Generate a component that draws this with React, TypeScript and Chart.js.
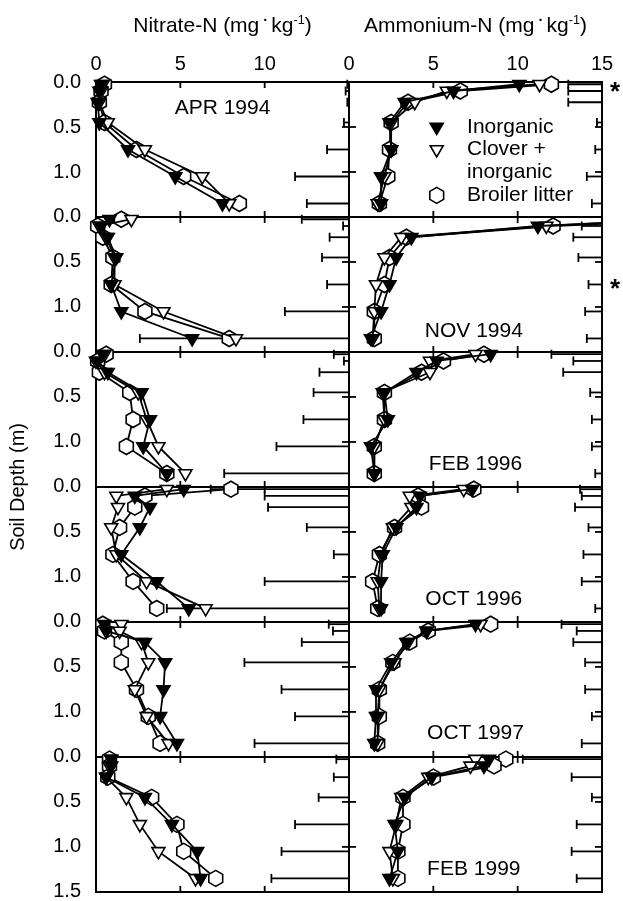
import React, { useEffect, useRef } from "react";
import { Chart, registerables } from "chart.js";

Chart.register(...registerables);

// ---------------- data ----------------
const DEPTHS = [0.025, 0.1, 0.225, 0.45, 0.75, 1.05, 1.35];
const PANEL_DATES = ["APR 1994", "NOV 1994", "FEB 1996", "OCT 1996", "OCT 1997", "FEB 1999"];
const DATE_LABEL_COLUMN = [0, 1, 1, 1, 1, 1];
const DATE_LABEL_X = [7.5, 7.4, 7.5, 7.4, 7.5, 7.4];
const DATE_LABEL_DEPTH = [0.29, 1.27, 1.25, 1.25, 1.24, 1.25];

const NITRATE_INORGANIC = [
  [0.3, 0.2, 0.1, 0.2, 1.9, 4.7, 7.5],
  [0.8, 0.3, 0.7, 1.2, 0.9, 1.5, 5.7],
  [0.4, 0.1, 0.7, 2.7, 3.2, 2.8, 4.2],
  [5.2, 2.3, 3.2, 2.6, 1.5, 3.6, 5.5],
  [0.5, 0.6, 2.9, 4.1, 4.0, 3.8, 4.8],
  [0.9, 0.9, 0.6, 2.9, 4.5, 6.0, 6.2],
];
const NITRATE_CLOVER = [
  [0.4, 0.3, 0.2, 0.7, 2.9, 6.3, 7.9],
  [2.1, 0.2, 0.6, 1.1, 1.1, 4.0, 8.3],
  [0.5, 0.0, 0.5, 2.5, 3.0, 3.7, 5.3],
  [4.2, 1.2, 1.3, 0.9, 1.2, 3.0, 6.5],
  [1.5, 1.4, 2.7, 3.1, 2.3, 3.0, 4.3],
  [0.9, 0.8, 0.6, 1.8, 2.6, 3.7, 5.9],
];
const NITRATE_BROILER = [
  [0.5, 0.3, 0.2, 0.5, 2.4, 5.2, 8.5],
  [1.5, 0.1, 0.4, 1.0, 0.9, 2.9, 7.9],
  [0.6, 0.1, 0.2, 2.0, 2.2, 1.8, 4.2],
  [8.0, 2.9, 2.3, 1.4, 1.0, 2.2, 3.6],
  [0.4, 0.5, 1.5, 1.5, 2.4, 3.1, 3.8],
  [0.8, 0.8, 0.7, 3.3, 4.8, 5.2, 7.1],
];

const AMMONIUM_INORGANIC = [
  [10.1, 6.2, 3.3, 2.4, 2.5, 1.9, 1.9],
  [20.0, 11.2, 3.7, 2.8, 2.4, 1.9, 1.3],
  [8.4, 5.2, 4.0, 2.1, 2.3, 1.3, 1.5],
  [7.3, 4.2, 4.0, 2.8, 2.0, 1.9, 1.9],
  [7.5, 4.6, 3.4, 2.5, 1.6, 1.6, 1.5],
  [8.3, 8.0, 4.9, 3.3, 2.7, 2.9, 2.4],
];
const AMMONIUM_CLOVER = [
  [11.3, 5.8, 3.9, 2.5, 2.5, 2.1, 1.7],
  [19.0, 11.7, 3.1, 2.1, 1.6, 1.5, 1.4],
  [7.5, 4.8, 4.8, 2.0, 2.1, 1.5, 1.5],
  [6.8, 3.6, 3.7, 2.6, 1.9, 1.7, 1.8],
  [7.8, 4.6, 3.5, 2.7, 1.8, 1.7, 1.7],
  [7.5, 7.2, 4.7, 3.1, 2.8, 2.4, 2.6],
];
const AMMONIUM_BROILER = [
  [12.0, 6.6, 3.5, 2.5, 2.4, 2.3, 1.8],
  [21.0, 12.1, 3.4, 2.4, 2.1, 1.5, 1.5],
  [8.0, 5.6, 4.3, 2.1, 2.1, 1.5, 1.5],
  [7.4, 4.1, 4.3, 2.7, 1.8, 1.4, 1.7],
  [8.4, 4.7, 3.6, 2.6, 1.8, 1.8, 1.7],
  [9.3, 8.6, 5.0, 3.2, 3.2, 2.9, 2.9],
];

// LSD bars (length, drawn leftwards from the right edge of each panel)
const NITRATE_LSD = [
  [0.1, 0.2, 0.1, 0.3, 1.3, 3.2, 2.5],
  [2.8, 0.35, 1.15, 1.6, 1.3, 3.8, 12.4],
  [0.9, 0.3, 1.75, 2.1, 2.7, 4.3, 7.4],
  [8.2, 5.0, 4.8, 2.5, 0.9, 5.0, 10.8],
  [1.2, 0.95, 2.8, 6.2, 4.0, 3.2, 5.6],
  [0.75, null, 0.9, 1.8, 3.2, 4.0, 4.6],
];
const AMMONIUM_LSD = [
  [2.0, 2.0, 2.0, 0.3, 0.4, 0.9, 0.6],
  [null, 1.2, 1.7, 1.4, 0.8, 1.0, 0.9],
  [3.0, 1.7, 2.3, 0.7, 0.6, 0.6, 0.4],
  [1.3, 1.2, 1.6, 0.8, 1.1, 1.2, 0.4],
  [2.4, 1.5, 1.7, 1.0, 1.0, 0.6, 1.2],
  [4.7, null, 1.8, 0.6, 1.5, 1.8, 1.5],
];

const ASTERISK_PANEL = [0, 1];
const ASTERISK_DEPTH = [0.06, 0.75];

const X_TICKS = [5, 10];
const Y_TICKS = [0.5, 1.0];
const LEGEND_NAMES = ["Inorganic", "Clover +", "inorganic", "Broiler litter"];
const LEGEND_SYMBOL = [0, 1, -1, 2];
const LEGEND_DEPTH = [0.5, 0.75, 1.0, 1.26];

// ---------------- layout constants ----------------
const SPAN = 1.5; // metres per panel
const XMAX = 15; // per column
const NP = PANEL_DATES.length;
const FONT = "'Liberation Sans', Arial, Helvetica, sans-serif";
const W = 623;
const H = 901;
const MARK_R = 7.5;
const HEX_R = 8;
const LINE_W = 1.8;

function hexPath(ctx: CanvasRenderingContext2D, x: number, y: number, r: number) {
  ctx.beginPath();
  for (let k = 0; k < 6; k++) {
    const a = Math.PI / 2 + (k * Math.PI) / 3;
    const px = x + r * Math.cos(a);
    const py = y - r * Math.sin(a);
    if (k === 0) ctx.moveTo(px, py);
    else ctx.lineTo(px, py);
  }
  ctx.closePath();
}

function drawSymbol(ctx: CanvasRenderingContext2D, kind: number, x: number, y: number) {
  ctx.save();
  ctx.lineWidth = 1.6;
  ctx.strokeStyle = "#000";
  if (kind === 2) {
    hexPath(ctx, x, y, HEX_R);
    ctx.fillStyle = "#fff";
  } else {
    const r = MARK_R;
    ctx.beginPath();
    ctx.moveTo(x, y + r);
    ctx.lineTo(x - r * 0.866, y - r / 2);
    ctx.lineTo(x + r * 0.866, y - r / 2);
    ctx.closePath();
    ctx.fillStyle = kind === 0 ? "#000" : "#fff";
  }
  ctx.fill();
  ctx.stroke();
  ctx.restore();
}

const figurePlugin = {
  id: "figureFrame",
  beforeDatasetsDraw(chart: any) {
    const { ctx, chartArea: a, scales } = chart;
    const xs = scales.x;
    const ys = scales.y;
    ctx.save();
    ctx.strokeStyle = "#000";
    ctx.lineWidth = 2;
    const seg = (x1: number, y1: number, x2: number, y2: number) => {
      ctx.beginPath();
      ctx.moveTo(x1, y1);
      ctx.lineTo(x2, y2);
      ctx.stroke();
    };
    // panel boundaries
    for (let p = 0; p <= NP; p++) {
      const py = ys.getPixelForValue(p * SPAN);
      seg(a.left - 1, py, a.right + 1, py);
    }
    for (let c = 0; c <= 2; c++) {
      const px = xs.getPixelForValue(c * XMAX);
      seg(px, a.top, px, a.bottom);
    }
    // x ticks on horizontal boundaries
    ctx.lineWidth = 1.8;
    for (let p = 0; p <= NP; p++) {
      const py = ys.getPixelForValue(p * SPAN);
      const up = p === 0 ? 0 : 6;
      const down = p === NP ? 0 : 6;
      for (let c = 0; c < 2; c++) {
        for (const t of X_TICKS) {
          const px = xs.getPixelForValue(c * XMAX + t);
          seg(px, py - up, px, py + down);
        }
      }
    }
    // y ticks on the column divider and right edge
    for (let p = 0; p < NP; p++) {
      for (const t of Y_TICKS) {
        const py = ys.getPixelForValue(p * SPAN + t);
        const mid = xs.getPixelForValue(XMAX);
        seg(mid - 7, py, mid + 7, py);
        const right = xs.getPixelForValue(2 * XMAX);
        seg(right - 7, py, right, py);
      }
    }
    // LSD bars
    ctx.lineWidth = 1.8;
    const lsds = [NITRATE_LSD, AMMONIUM_LSD];
    for (let c = 0; c < 2; c++) {
      for (let p = 0; p < NP; p++) {
        lsds[c][p].forEach((v: number | null, i: number) => {
          if (v === null || v === undefined) return;
          const end = xs.getPixelForValue(c * XMAX + XMAX);
          const start = xs.getPixelForValue(c * XMAX + XMAX - v);
          const py = ys.getPixelForValue(p * SPAN + DEPTHS[i]);
          seg(start, py, end, py);
          seg(start, py - 4.5, start, py + 4.5);
        });
      }
    }
    ctx.restore();
  },
  afterDatasetDraw(chart: any, args: any) {
    const ds = chart.data.datasets[args.index];
    if (!ds.hexagon) return;
    const { ctx, chartArea: a } = chart;
    ctx.save();
    ctx.lineWidth = 1.6;
    ctx.strokeStyle = "#000";
    ctx.fillStyle = "#fff";
    args.meta.data.forEach((pt: any) => {
      if (pt.x > a.right + 1 || pt.x < a.left - 1) return;
      hexPath(ctx, pt.x, pt.y, HEX_R);
      ctx.fill();
      ctx.stroke();
    });
    ctx.restore();
  },
  afterDatasetsDraw(chart: any) {
    const { ctx, scales } = chart;
    const xs = scales.x;
    const ys = scales.y;
    ctx.save();
    ctx.fillStyle = "#000";
    ctx.font = `21px ${FONT}`;
    ctx.textBaseline = "middle";
    // date labels
    PANEL_DATES.forEach((label, p) => {
      ctx.textAlign = "center";
      const px = xs.getPixelForValue(DATE_LABEL_COLUMN[p] * XMAX + DATE_LABEL_X[p]);
      const py = ys.getPixelForValue(p * SPAN + DATE_LABEL_DEPTH[p]);
      ctx.fillText(label, px, py);
    });
    // legend
    LEGEND_NAMES.forEach((name, i) => {
      const py = ys.getPixelForValue(LEGEND_DEPTH[i]);
      if (LEGEND_SYMBOL[i] >= 0) drawSymbol(ctx, LEGEND_SYMBOL[i], xs.getPixelForValue(XMAX + 5.2), py);
      ctx.textAlign = "left";
      ctx.fillText(name, xs.getPixelForValue(XMAX + 7.0), py);
    });
    // asterisks
    ctx.font = `bold 26px ${FONT}`;
    ctx.textAlign = "center";
    ASTERISK_PANEL.forEach((p, i) => {
      const py = ys.getPixelForValue(p * SPAN + ASTERISK_DEPTH[i]);
      ctx.fillText("*", xs.getPixelForValue(2 * XMAX) + 13, py + 5);
    });
    ctx.restore();
  },
};

export default function App() {
  const ref = useRef<HTMLCanvasElement>(null);

  useEffect(() => {
    const series = [
      { nit: NITRATE_INORGANIC, amm: AMMONIUM_INORGANIC, hexagon: false, fill: "#000" },
      { nit: NITRATE_CLOVER, amm: AMMONIUM_CLOVER, hexagon: false, fill: "#fff" },
      { nit: NITRATE_BROILER, amm: AMMONIUM_BROILER, hexagon: true, fill: "#fff" },
    ];
    const datasets: any[] = [];
    for (let p = 0; p < NP; p++) {
      for (let c = 0; c < 2; c++) {
        for (const s of series) {
          const vals = c === 0 ? s.nit[p] : s.amm[p];
          datasets.push({
            data: DEPTHS.map((d, i) => ({ x: c * XMAX + vals[i], y: p * SPAN + d })),
            showLine: true,
            hexagon: s.hexagon,
            borderColor: "#000",
            borderWidth: LINE_W,
            pointStyle: "triangle",
            pointRotation: 180,
            pointRadius: s.hexagon ? 0 : MARK_R,
            pointBackgroundColor: s.fill,
            pointBorderColor: "#000",
            pointBorderWidth: 1.6,
            clip: { left: 12, top: 12, right: 0, bottom: 12 },
          });
        }
      }
    }

    const chart = new Chart(ref.current!, {
      type: "scatter",
      data: { datasets },
      options: {
        animation: false,
        responsive: false,
        events: [],
        layout: { padding: { top: 0, left: 0, right: 21, bottom: 6.5 } },
        plugins: { legend: { display: false }, tooltip: { enabled: false } },
        scales: {
          x: {
            type: "linear",
            position: "top",
            min: 0,
            max: 2 * XMAX,
            grid: { display: false, drawTicks: false },
            border: { display: false },
            ticks: {
              stepSize: 5,
              autoSkip: false,
              maxRotation: 0,
              padding: 6,
              color: "#000",
              font: { family: FONT, size: 20 },
              callback: (v: any) => {
                const n = Number(v);
                return n <= 10 ? String(n) : String(n - XMAX);
              },
            },
            afterFit: (s: any) => {
              s.height = 82;
              s.paddingLeft = 0;
              s.paddingRight = 0;
            },
          },
          y: {
            type: "linear",
            reverse: true,
            min: 0,
            max: NP * SPAN,
            grid: { display: false, drawTicks: false },
            border: { display: false },
            ticks: {
              stepSize: 0.5,
              autoSkip: false,
              padding: 15,
              color: "#000",
              font: { family: FONT, size: 20 },
              callback: (v: any) => {
                const n = Number(v);
                if (Math.abs(n - NP * SPAN) < 1e-6) return SPAN.toFixed(1);
                const r = n - Math.floor(n / SPAN + 1e-9) * SPAN;
                return Math.abs(r).toFixed(1);
              },
            },
            title: {
              display: true,
              text: "Soil Depth (m)",
              color: "#000",
              font: { family: FONT, size: 20 },
              padding: { top: 6, bottom: 0 },
            },
            afterFit: (s: any) => {
              s.width = 96;
              s.paddingTop = 0;
              s.paddingBottom = 0;
            },
          },
        },
      },
      plugins: [figurePlugin],
    } as any);
    return () => chart.destroy();
  }, []);

  const titleStyle: React.CSSProperties = {
    position: "absolute",
    top: 13,
    fontFamily: FONT,
    fontSize: 21,
    lineHeight: "24px",
    textAlign: "center",
    color: "#000",
    whiteSpace: "nowrap",
  };
  const supStyle: React.CSSProperties = {
    fontSize: "0.6em",
    position: "relative",
    top: "-0.6em",
    lineHeight: 0,
  };
  const dotStyle: React.CSSProperties = {
    position: "relative",
    top: "-0.35em",
    margin: "0 0.12em",
  };

  return (
    <div style={{ position: "absolute", left: 0, top: 0, width: W, height: H, background: "#fff" }}>
      <canvas ref={ref} width={W} height={H} style={{ position: "absolute", left: 0, top: 0 }} />
      <div style={{ ...titleStyle, left: 96, width: 253 }}>
        Nitrate-N (mg<span style={dotStyle}>·</span>kg<span style={supStyle}>-1</span>)
      </div>
      <div style={{ ...titleStyle, left: 349, width: 253 }}>
        Ammonium-N (mg<span style={dotStyle}>·</span>kg<span style={supStyle}>-1</span>)
      </div>
    </div>
  );
}
